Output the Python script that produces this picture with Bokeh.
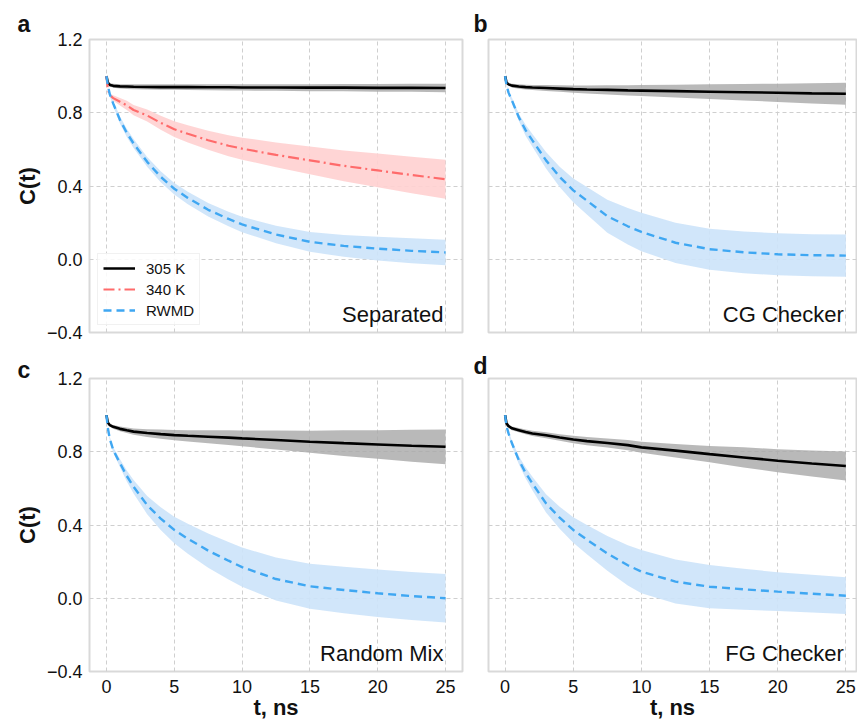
from bokeh.plotting import figure
from bokeh.layouts import column, row
from bokeh.models import Label, FixedTicker, CustomJSTickFormatter, Range1d, Title
from bokeh.embed import file_html
from bokeh.resources import INLINE

# ---------------- data ----------------
T = [0, 0.1, 0.25, 0.5, 1, 1.5, 2, 3, 4, 5, 6, 7.5, 9, 10, 12.5, 15, 17.5, 20, 22.5, 25]

# panel a: Separated
a_305 = [1.0, 0.965, 0.952, 0.947, 0.944, 0.943, 0.942, 0.941, 0.940, 0.940, 0.940, 0.939, 0.939, 0.938, 0.938, 0.937, 0.937, 0.936, 0.936, 0.935]
a_305_err = [0, 0.006, 0.009, 0.011, 0.012, 0.013, 0.013, 0.014, 0.015, 0.015, 0.016, 0.016, 0.017, 0.017, 0.018, 0.019, 0.02, 0.021, 0.022, 0.023]
a_340 = [1.0, 0.93, 0.895, 0.88, 0.86, 0.84, 0.815, 0.785, 0.745, 0.71, 0.685, 0.65, 0.62, 0.604, 0.57, 0.54, 0.51, 0.485, 0.46, 0.437]
a_340_err = [0, 0.005, 0.01, 0.015, 0.02, 0.025, 0.028, 0.033, 0.038, 0.043, 0.047, 0.052, 0.057, 0.06, 0.068, 0.076, 0.084, 0.092, 0.1, 0.107]
a_rwmd = [1.0, 0.95, 0.9, 0.85, 0.76, 0.69, 0.632, 0.532, 0.45, 0.385, 0.335, 0.27, 0.22, 0.19, 0.135, 0.095, 0.073, 0.058, 0.046, 0.037]
a_rwmd_err = [0, 0.005, 0.01, 0.015, 0.02, 0.022, 0.024, 0.027, 0.03, 0.032, 0.034, 0.037, 0.04, 0.042, 0.048, 0.054, 0.06, 0.065, 0.068, 0.07]

# panel b: CG Checker
b_305 = [1.0, 0.965, 0.955, 0.948, 0.943, 0.94, 0.938, 0.935, 0.932, 0.929, 0.927, 0.925, 0.922, 0.921, 0.918, 0.915, 0.912, 0.909, 0.906, 0.904]
b_305_err = [0, 0.005, 0.008, 0.01, 0.012, 0.013, 0.014, 0.016, 0.018, 0.02, 0.022, 0.025, 0.028, 0.03, 0.035, 0.04, 0.045, 0.05, 0.055, 0.06]
b_rwmd = [1.0, 0.95, 0.91, 0.867, 0.776, 0.705, 0.649, 0.54, 0.45, 0.376, 0.32, 0.235, 0.18, 0.149, 0.09, 0.055, 0.038, 0.027, 0.022, 0.02]
b_rwmd_err = [0, 0.005, 0.01, 0.015, 0.02, 0.03, 0.035, 0.045, 0.055, 0.065, 0.075, 0.09, 0.1, 0.105, 0.11, 0.112, 0.114, 0.115, 0.115, 0.115]

# panel c: Random Mix
c_305 = [1.0, 0.96, 0.945, 0.936, 0.925, 0.917, 0.91, 0.902, 0.896, 0.891, 0.887, 0.882, 0.877, 0.873, 0.864, 0.855, 0.847, 0.84, 0.833, 0.827]
c_305_err = [0, 0.005, 0.008, 0.01, 0.013, 0.015, 0.017, 0.021, 0.025, 0.028, 0.031, 0.035, 0.04, 0.043, 0.052, 0.06, 0.07, 0.078, 0.087, 0.095]
c_rwmd = [1.0, 0.93, 0.87, 0.809, 0.737, 0.668, 0.609, 0.509, 0.435, 0.373, 0.325, 0.26, 0.205, 0.17, 0.105, 0.065, 0.045, 0.027, 0.012, 0.0]
c_rwmd_err = [0, 0.005, 0.01, 0.015, 0.022, 0.03, 0.037, 0.05, 0.062, 0.072, 0.082, 0.093, 0.102, 0.107, 0.117, 0.123, 0.127, 0.13, 0.131, 0.132]

# panel d: FG Checker
d_305 = [1.0, 0.955, 0.94, 0.928, 0.918, 0.908, 0.9, 0.89, 0.878, 0.867, 0.858, 0.848, 0.836, 0.824, 0.806, 0.787, 0.769, 0.751, 0.736, 0.722]
d_305_err = [0, 0.005, 0.008, 0.01, 0.012, 0.013, 0.014, 0.016, 0.018, 0.02, 0.022, 0.025, 0.028, 0.03, 0.037, 0.045, 0.055, 0.063, 0.071, 0.079]
d_rwmd = [1.0, 0.94, 0.9, 0.846, 0.755, 0.685, 0.627, 0.518, 0.44, 0.373, 0.32, 0.245, 0.18, 0.145, 0.091, 0.063, 0.049, 0.036, 0.025, 0.014]
d_rwmd_err = [0, 0.005, 0.01, 0.015, 0.022, 0.03, 0.037, 0.05, 0.06, 0.07, 0.08, 0.095, 0.11, 0.118, 0.12, 0.118, 0.112, 0.106, 0.103, 0.1]

X_TICKS = [0, 5, 10, 15, 20, 25]
Y_TICKS = [-0.4, 0.0, 0.4, 0.8, 1.2]
PANEL_LETTERS = ["a", "b", "c", "d"]
PANEL_NAMES = ["Separated", "CG Checker", "Random Mix", "FG Checker"]
SERIES_NAMES = ["305 K", "340 K", "RWMD"]
Y_LABEL = "C(t)"
X_LABEL = "t, ns"

# ---------------- style ----------------
FONT = "Liberation Sans"
BLACK = "#000000"
RED = "#ff6b6b"
BLUE = "#3fa7f2"
GRAY_BAND = "#a8a8a8"
RED_BAND = "#ffd0d0"
BLUE_BAND = "#cce3fa"
TXT = "#111111"


def band(p, x, y, err, color, alpha):
    lo = [v - e for v, e in zip(y, err)]
    hi = [v + e for v, e in zip(y, err)]
    p.varea(x=x, y1=lo, y2=hi, fill_color=color, fill_alpha=alpha)


def make_fig(width, height, mbl, mbr, mbt, mbb, xr, show_y, show_x, letter, letter_offset, letter_standoff):
    p = figure(width=width, height=height, x_range=Range1d(*xr), y_range=Range1d(-0.4, 1.2),
               output_backend="svg", toolbar_location=None,
               min_border_left=mbl, min_border_right=mbr, min_border_top=mbt, min_border_bottom=mbb)
    p.title = Title(text=letter, align="left", offset=letter_offset, standoff=letter_standoff,
                    text_font=FONT, text_font_size="23px", text_font_style="bold", text_color=TXT)
    p.outline_line_color = "#d9d9d9"
    p.outline_line_width = 2
    p.background_fill_color = "white"
    p.border_fill_color = "white"
    p.xaxis.ticker = FixedTicker(ticks=X_TICKS)
    p.yaxis.ticker = FixedTicker(ticks=Y_TICKS)
    p.xgrid.ticker = FixedTicker(ticks=X_TICKS)
    p.ygrid.ticker = FixedTicker(ticks=Y_TICKS)
    for g in (p.xgrid, p.ygrid):
        g.grid_line_color = "#cfcfcf"
        g.grid_line_dash = "4 3"
        g.grid_line_width = 1
    for ax in (p.xaxis, p.yaxis):
        ax.axis_line_color = None
        ax.major_tick_line_color = None
        ax.minor_tick_line_color = None
        ax.major_tick_out = 0
        ax.major_tick_in = 0
        ax.major_label_text_font = FONT
        ax.major_label_text_font_size = "18px"
        ax.major_label_text_color = TXT
        ax.axis_label_text_font = FONT
        ax.axis_label_text_font_size = "22px"
        ax.axis_label_text_font_style = "bold"
        ax.axis_label_text_color = TXT
    p.yaxis.major_label_standoff = 7
    p.xaxis.major_label_standoff = 8
    p.yaxis.formatter = CustomJSTickFormatter(
        code="return (tick < -1e-9 ? '\\u2212' : '') + Math.abs(tick).toFixed(1);")
    if show_y:
        p.yaxis.axis_label = Y_LABEL
        p.yaxis.axis_label_standoff = 4
    if show_x:
        p.xaxis.axis_label = X_LABEL
        p.xaxis.axis_label_standoff = -1
    p.xaxis.visible = show_x
    p.yaxis.visible = show_y
    return p


XR_LEFT = (-1.25, 26.25)
XR_RIGHT = (-1.22, 25.78)

pa = make_fig(470, 342, 89, 8, 39, 10, XR_LEFT, True, False, PANEL_LETTERS[0], -72, 5)
pb = make_fig(387, 342, 18, 1, 39, 10, XR_RIGHT, False, False, PANEL_LETTERS[1], -15, 5)
pc = make_fig(470, 380, 89, 8, 36, 50, XR_LEFT, True, True, PANEL_LETTERS[2], -72, -8)
pd = make_fig(387, 380, 18, 1, 36, 50, XR_RIGHT, False, True, PANEL_LETTERS[3], -15, -1)

# panel a
band(pa, T, a_305, a_305_err, GRAY_BAND, 0.8)
band(pa, T, a_340, a_340_err, RED_BAND, 0.9)
band(pa, T, a_rwmd, a_rwmd_err, BLUE_BAND, 0.9)
pa.line(T, a_305, line_color=BLACK, line_width=2.6, legend_label=SERIES_NAMES[0])
pa.line(T, a_340, line_color=RED, line_width=2.2, line_dash="11 4 2 4", legend_label=SERIES_NAMES[1])
pa.line(T, a_rwmd, line_color=BLUE, line_width=2.4, line_dash="8 5", legend_label=SERIES_NAMES[2])

# panel b
band(pb, T, b_305, b_305_err, GRAY_BAND, 0.8)
band(pb, T, b_rwmd, b_rwmd_err, BLUE_BAND, 0.9)
pb.line(T, b_305, line_color=BLACK, line_width=2.6)
pb.line(T, b_rwmd, line_color=BLUE, line_width=2.4, line_dash="8 5")

# panel c
band(pc, T, c_305, c_305_err, GRAY_BAND, 0.8)
band(pc, T, c_rwmd, c_rwmd_err, BLUE_BAND, 0.9)
pc.line(T, c_305, line_color=BLACK, line_width=2.6)
pc.line(T, c_rwmd, line_color=BLUE, line_width=2.4, line_dash="8 5")

# panel d
band(pd, T, d_305, d_305_err, GRAY_BAND, 0.8)
band(pd, T, d_rwmd, d_rwmd_err, BLUE_BAND, 0.9)
pd.line(T, d_305, line_color=BLACK, line_width=2.6)
pd.line(T, d_rwmd, line_color=BLUE, line_width=2.4, line_dash="8 5")

# legend
lg = pa.legend[0]
lg.location = (8, 7)
lg.label_text_font = FONT
lg.label_text_font_size = "15px"
lg.label_text_color = TXT
lg.glyph_width = 32
lg.glyph_height = 18
lg.label_height = 18
lg.spacing = 3
lg.padding = 5
lg.margin = 0
lg.label_standoff = 11
lg.border_line_color = "#e3e3e3"
lg.border_line_width = 1
lg.background_fill_alpha = 0.85

# panel names inside the frame
for p, name in zip((pa, pb, pc, pd), PANEL_NAMES):
    p.add_layout(Label(x=24.85, y=-0.3, text=name, text_align="right", text_baseline="alphabetic",
                       text_font=FONT, text_font_size="22px", text_color=TXT))

layout = column(row(pa, pb), row(pc, pd))
open("out.html", "w").write(file_html(layout, INLINE))
